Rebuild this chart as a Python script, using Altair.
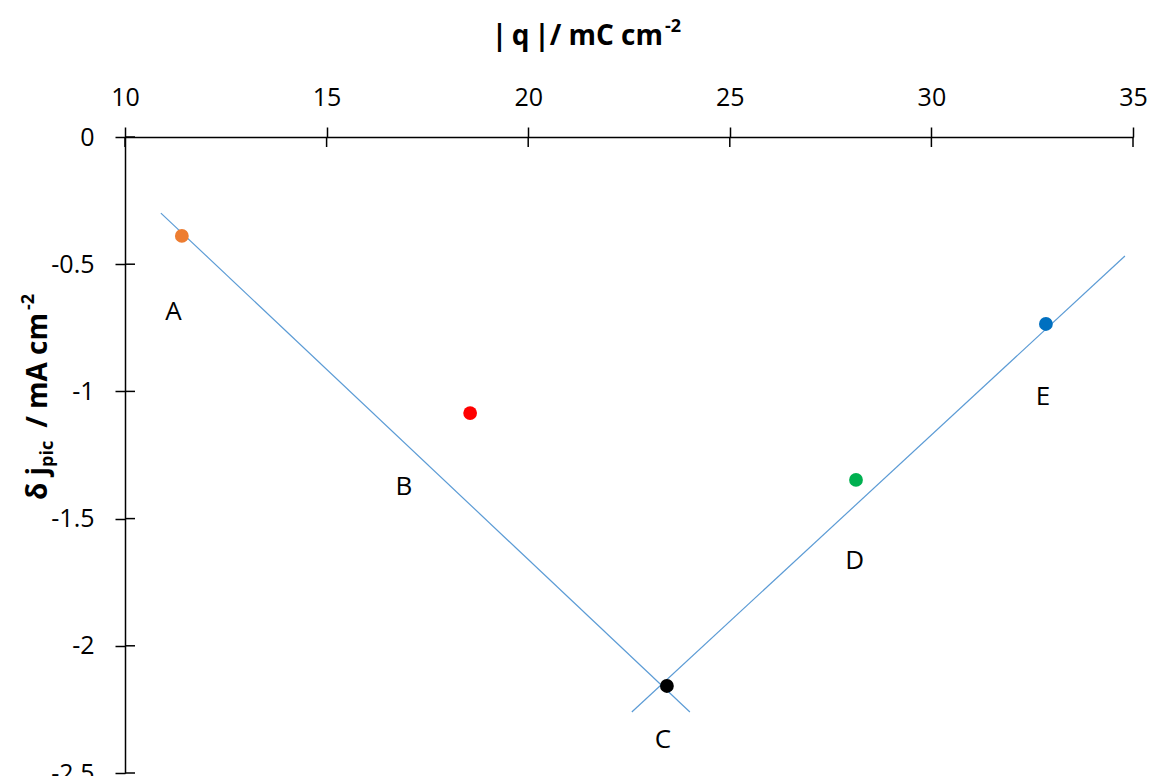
import altair as alt
import pandas as pd

# Data
labels = ["A", "B", "C", "D", "E"]
q_vals = [11.41, 18.56, 23.44, 28.13, 32.84]
dj_vals = [-0.389, -1.085, -2.158, -1.348, -0.735]
point_colors = ["#ED7D31", "#FF0000", "#000000", "#00B050", "#0070C0"]

label_x = [11.2, 16.92, 23.34, 28.1, 32.77]
label_y = [-0.688, -1.376, -2.37, -1.667, -1.022]

line_series = ["left", "left", "right", "right"]
line_x = [10.89, 24.01, 22.57, 34.80]
line_y = [-0.299, -2.26, -2.26, -0.468]

x_ticks = [10, 15, 20, 25, 30, 35]
y_ticks = [0, -0.5, -1, -1.5, -2, -2.5]

FONT = "Open Sans"

pts = pd.DataFrame({"q": q_vals, "dj": dj_vals, "lab": labels, "col": point_colors})
labs = pd.DataFrame({"q": label_x, "dj": label_y, "lab": labels})
lines = pd.DataFrame({"s": line_series, "q": line_x, "dj": line_y})
xt = pd.DataFrame({"v": x_ticks})
yt = pd.DataFrame({"v": y_ticks})

xscale = alt.Scale(domain=[10, 35], nice=False, zero=False)
yscale = alt.Scale(domain=[-2.5, 0], nice=False, zero=False)

xaxis = alt.Axis(orient="top", values=x_ticks, grid=False, domainColor="black",
                 domainWidth=1.5, tickColor="black", tickWidth=1.5, tickSize=10,
                 labelFont=FONT, labelFontSize=25, labelColor="black",
                 labelPadding=17, title=None, labelFlush=False)
yaxis = alt.Axis(orient="left", values=y_ticks, grid=False, domainColor="black",
                 domainWidth=1.5, tickColor="black", tickWidth=1.5, tickSize=10,
                 labelFont=FONT, labelFontSize=25, labelColor="black",
                 labelPadding=21, title=None, labelFlush=False,
                 labelExpr="toString(datum.value)")

base_lines = alt.Chart(lines).mark_line(color="#5B9BD5", strokeWidth=1.2).encode(
    x=alt.X("q:Q", scale=xscale, axis=xaxis),
    y=alt.Y("dj:Q", scale=yscale, axis=yaxis),
    detail="s:N",
)

points = alt.Chart(pts).mark_circle(size=190, opacity=1).encode(
    x=alt.X("q:Q", scale=xscale),
    y=alt.Y("dj:Q", scale=yscale),
    color=alt.Color("col:N", scale=None),
)

point_labels = alt.Chart(labs).mark_text(font=FONT, fontSize=26, color="black").encode(
    x=alt.X("q:Q", scale=xscale),
    y=alt.Y("dj:Q", scale=yscale),
    text="lab:N",
)

# inward halves of the crossing tick marks
ytick_in = alt.Chart(yt).mark_rule(color="black", strokeWidth=1.5).encode(
    x=alt.value(0), x2=alt.value(10),
    y=alt.Y("v:Q", scale=yscale),
)
xtick_in = alt.Chart(xt).mark_rule(color="black", strokeWidth=1.5).encode(
    y=alt.value(0), y2=alt.value(10),
    x=alt.X("v:Q", scale=xscale),
)

# Axis titles as text pieces (for subscripts / superscripts)
def txt(s, x, y, size, align="left", angle=0):
    d = pd.DataFrame({"t": [s]})
    kw = dict(font=FONT, fontSize=size, fontWeight="bold", color="black",
              align=align, baseline="alphabetic")
    if angle:
        kw["angle"] = angle
    return alt.Chart(d).mark_text(**kw).encode(
        x=alt.value(x), y=alt.value(y), text="t:N")

x_title = txt("|\u2009q\u2009|/ mC cm", 538, -92, 28, align="right")
x_title_sup = txt("-2", 540, -105, 18)

y_t1 = txt("δ j", -78, 363, 28, angle=270)
y_t2 = txt("pic", -72, 330, 18, angle=270)
y_t3 = txt("/ mA cm", -78, 176, 28, align="right", angle=270)
y_t4 = txt("-2", -91, 173, 18, angle=270)

chart = alt.layer(
    base_lines, ytick_in, xtick_in, points, point_labels,
    x_title, x_title_sup, y_t1, y_t2, y_t3, y_t4,
).properties(
    width=1008, height=636,
    autosize=alt.AutoSizeParams(type="none"),
    padding={"left": 117, "top": 129, "right": 15, "bottom": 3},
    view=alt.ViewBackground(stroke="transparent", strokeWidth=0),
).configure_view(stroke="transparent", strokeWidth=0).configure(background="white")

chart.save("out.html", embed_options={"renderer": "svg", "actions": False})
